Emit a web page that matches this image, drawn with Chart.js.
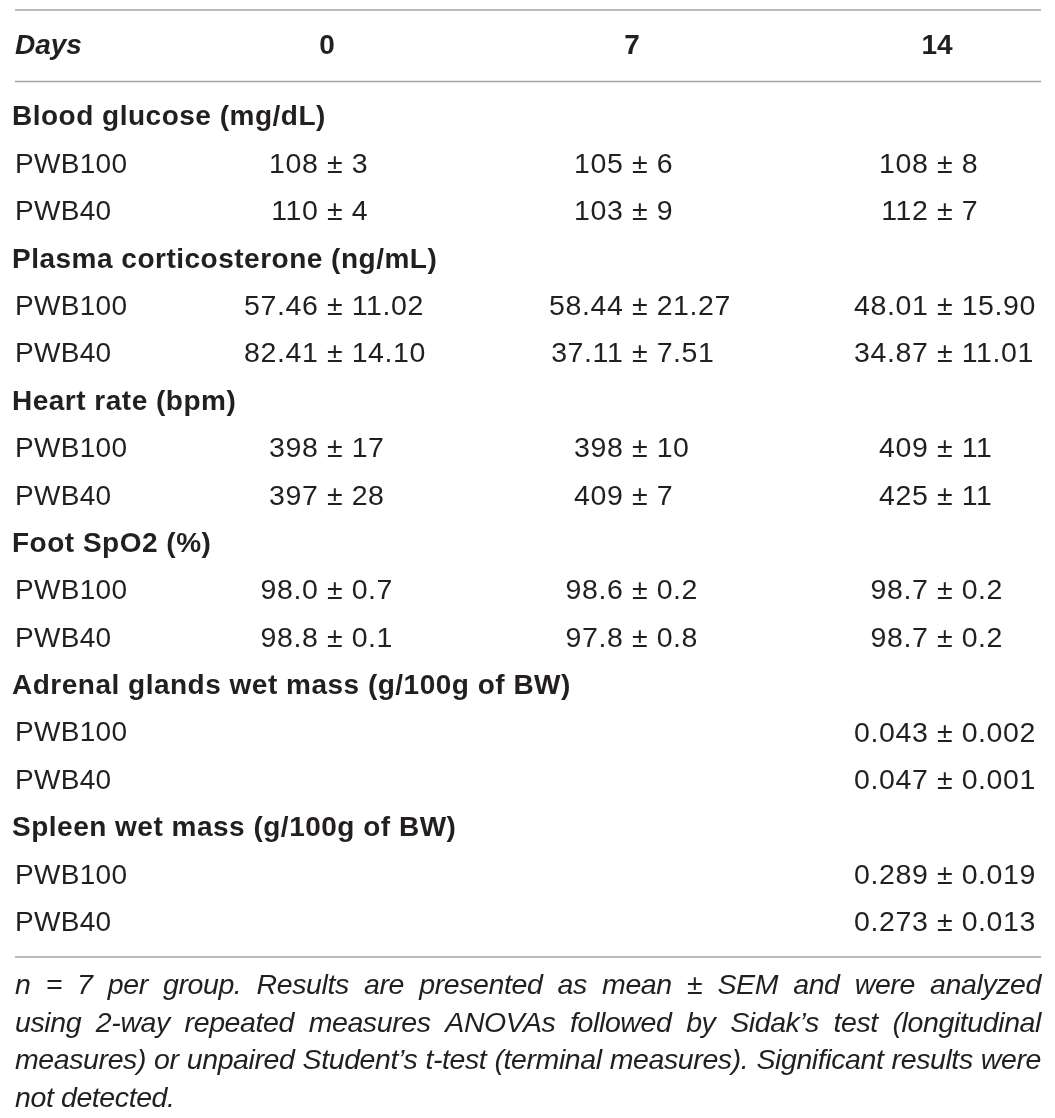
<!DOCTYPE html>
<html>
<head>
<meta charset="utf-8">
<script src="https://cdn.jsdelivr.net/npm/chart.js@4.4.1/dist/chart.umd.min.js"></script>
<style>
  html, body { margin: 0; padding: 0; background: #ffffff; }
  #wrap { width: 1055px; height: 1118px; }
</style>
</head>
<body>
<div id="wrap"><canvas id="tableChart"></canvas></div>
<script>
// Table values
const days = ['0', '7', '14'];
const measures = [
  'Blood glucose (mg/dL)',
  'Plasma corticosterone (ng/mL)',
  'Heart rate (bpm)',
  'Foot SpO2 (%)',
  'Adrenal glands wet mass (g/100g of BW)',
  'Spleen wet mass (g/100g of BW)'
];
const decimals = [0, 2, 0, 1, 3, 3];
const groupLabels = ['PWB100', 'PWB40'];

const pwb100Mean = [[108, 105, 108], [57.46, 58.44, 48.01], [398, 398, 409], [98.0, 98.6, 98.7], [null, null, 0.043], [null, null, 0.289]];
const pwb100Sem  = [[3, 6, 8], [11.02, 21.27, 15.90], [17, 10, 11], [0.7, 0.2, 0.2], [null, null, 0.002], [null, null, 0.019]];
const pwb40Mean  = [[110, 103, 112], [82.41, 37.11, 34.87], [397, 409, 425], [98.8, 97.8, 98.7], [null, null, 0.047], [null, null, 0.273]];
const pwb40Sem   = [[4, 9, 7], [14.10, 7.51, 11.01], [28, 7, 11], [0.1, 0.8, 0.2], [null, null, 0.001], [null, null, 0.013]];

const footnote = [
  'n = 7 per group. Results are presented as mean \u00b1 SEM and were analyzed',
  'using 2-way repeated measures ANOVAs followed by Sidak\u2019s test (longitudinal',
  'measures) or unpaired Student\u2019s t-test (terminal measures). Significant results were',
  'not detected.'
];

const FONT = '"Liberation Sans", Arial, Helvetica, sans-serif';
const INK = '#231f20';
const RULE = '#a3a3a3';

// one category per table line: measure header, then one line per group
const rowKeys = [];
measures.forEach((m, i) => {
  rowKeys.push('m' + i);
  groupLabels.forEach((g, j) => rowKeys.push('m' + i + 'g' + j));
});

const means = [pwb100Mean, pwb40Mean];
const sems = [pwb100Sem, pwb40Sem];
const cells = [];
measures.forEach((m, i) => {
  groupLabels.forEach((g, j) => {
    days.forEach((d, k) => {
      const mv = means[j][i][k];
      if (mv === null) return;
      cells.push({
        x: d,
        y: 'm' + i + 'g' + j,
        mean: mv.toFixed(decimals[i]),
        sem: sems[j][i][k].toFixed(decimals[i])
      });
    });
  });
});

function justifyLine(ctx, text, x0, x1, y, last) {
  if (last) { ctx.fillText(text, x0, y); return; }
  const words = text.split(' ');
  const widths = words.map(w => ctx.measureText(w).width);
  const total = widths.reduce((a, b) => a + b, 0);
  const gap = (x1 - x0 - total) / (words.length - 1);
  let x = x0;
  words.forEach((w, i) => { ctx.fillText(w, x, y); x += widths[i] + gap; });
}

const tablePlugin = {
  id: 'tablePlugin',
  beforeDraw(chart) {
    const ctx = chart.ctx;
    ctx.save();
    ctx.fillStyle = '#ffffff';
    ctx.fillRect(0, 0, chart.width, chart.height);
    ctx.restore();
  },
  afterDatasetsDraw(chart) {
    const ctx = chart.ctx;
    const xs = chart.scales.x;
    const ys = chart.scales.y;
    const left = 15, right = 1041;
    ctx.save();

    // horizontal rules
    ctx.strokeStyle = RULE;
    ctx.lineWidth = 1.5;
    [10, 81.5, 957].forEach(y => {
      ctx.beginPath();
      ctx.moveTo(left, y);
      ctx.lineTo(right, y);
      ctx.stroke();
    });

    ctx.fillStyle = INK;
    ctx.textBaseline = 'alphabetic';

    // header row
    ctx.font = 'italic bold 28px ' + FONT;
    ctx.textAlign = 'left';
    ctx.fillText('Days', left, 54);
    ctx.font = 'bold 28px ' + FONT;
    ctx.textAlign = 'center';
    days.forEach((d, k) => ctx.fillText(d, xs.getPixelForValue(k) - 8, 54));

    // row labels
    ctx.textBaseline = 'middle';
    ctx.textAlign = 'left';
    rowKeys.forEach((key, idx) => {
      const y = ys.getPixelForValue(idx);
      if (key.indexOf('g') < 0) {
        ctx.font = 'bold 28px ' + FONT;
        ctx.letterSpacing = '0.5px';
        ctx.fillText(measures[+key.slice(1)], 12, y + 1);
      } else {
        ctx.font = '28px ' + FONT;
        ctx.letterSpacing = '0.3px';
        ctx.fillText(groupLabels[+key.split('g')[1]], left, y + 1);
      }
    });

    // cell values, aligned on the ± sign
    ctx.font = '28.5px ' + FONT;
    ctx.letterSpacing = '0.6px';
    const meta = chart.getDatasetMeta(0);
    meta.data.forEach((pt, i) => {
      const c = cells[i];
      const head = c.mean + ' ';
      const pm = '\u00b1';
      const x = pt.x - ctx.measureText(head).width - ctx.measureText(pm).width / 2;
      ctx.fillText(head + pm + ' ' + c.sem, x, pt.y + 1);
    });

    // footnote, justified
    ctx.textBaseline = 'alphabetic';
    ctx.letterSpacing = '-0.4px';
    let fs = 28.5;
    const span = right - left;
    while (fs > 16) {
      ctx.font = 'italic ' + fs + 'px ' + FONT;
      const ok = footnote.slice(0, -1).every(line => {
        const words = line.split(' ');
        const w = words.reduce((a, s) => a + ctx.measureText(s).width, 0);
        return w + (words.length - 1) * fs * 0.1 <= span;
      });
      if (ok) break;
      fs -= 0.5;
    }
    ctx.font = 'italic ' + fs + 'px ' + FONT;
    footnote.forEach((line, i) => {
      justifyLine(ctx, line, left, right, 994 + i * 37.5, i === footnote.length - 1);
    });

    ctx.restore();
  }
};

new Chart(document.getElementById('tableChart'), {
  type: 'scatter',
  data: {
    datasets: [{
      data: cells,
      pointRadius: 0,
      pointHoverRadius: 0
    }]
  },
  options: {
    responsive: true,
    maintainAspectRatio: false,
    animation: false,
    events: [],
    layout: { padding: { left: 335, right: 110, top: 93, bottom: 172 } },
    plugins: {
      legend: { display: false },
      tooltip: { enabled: false }
    },
    scales: {
      x: { type: 'category', labels: days, offset: false, display: false },
      y: { type: 'category', labels: rowKeys, offset: true, display: false }
    }
  },
  plugins: [tablePlugin]
});
</script>
</body>
</html>
